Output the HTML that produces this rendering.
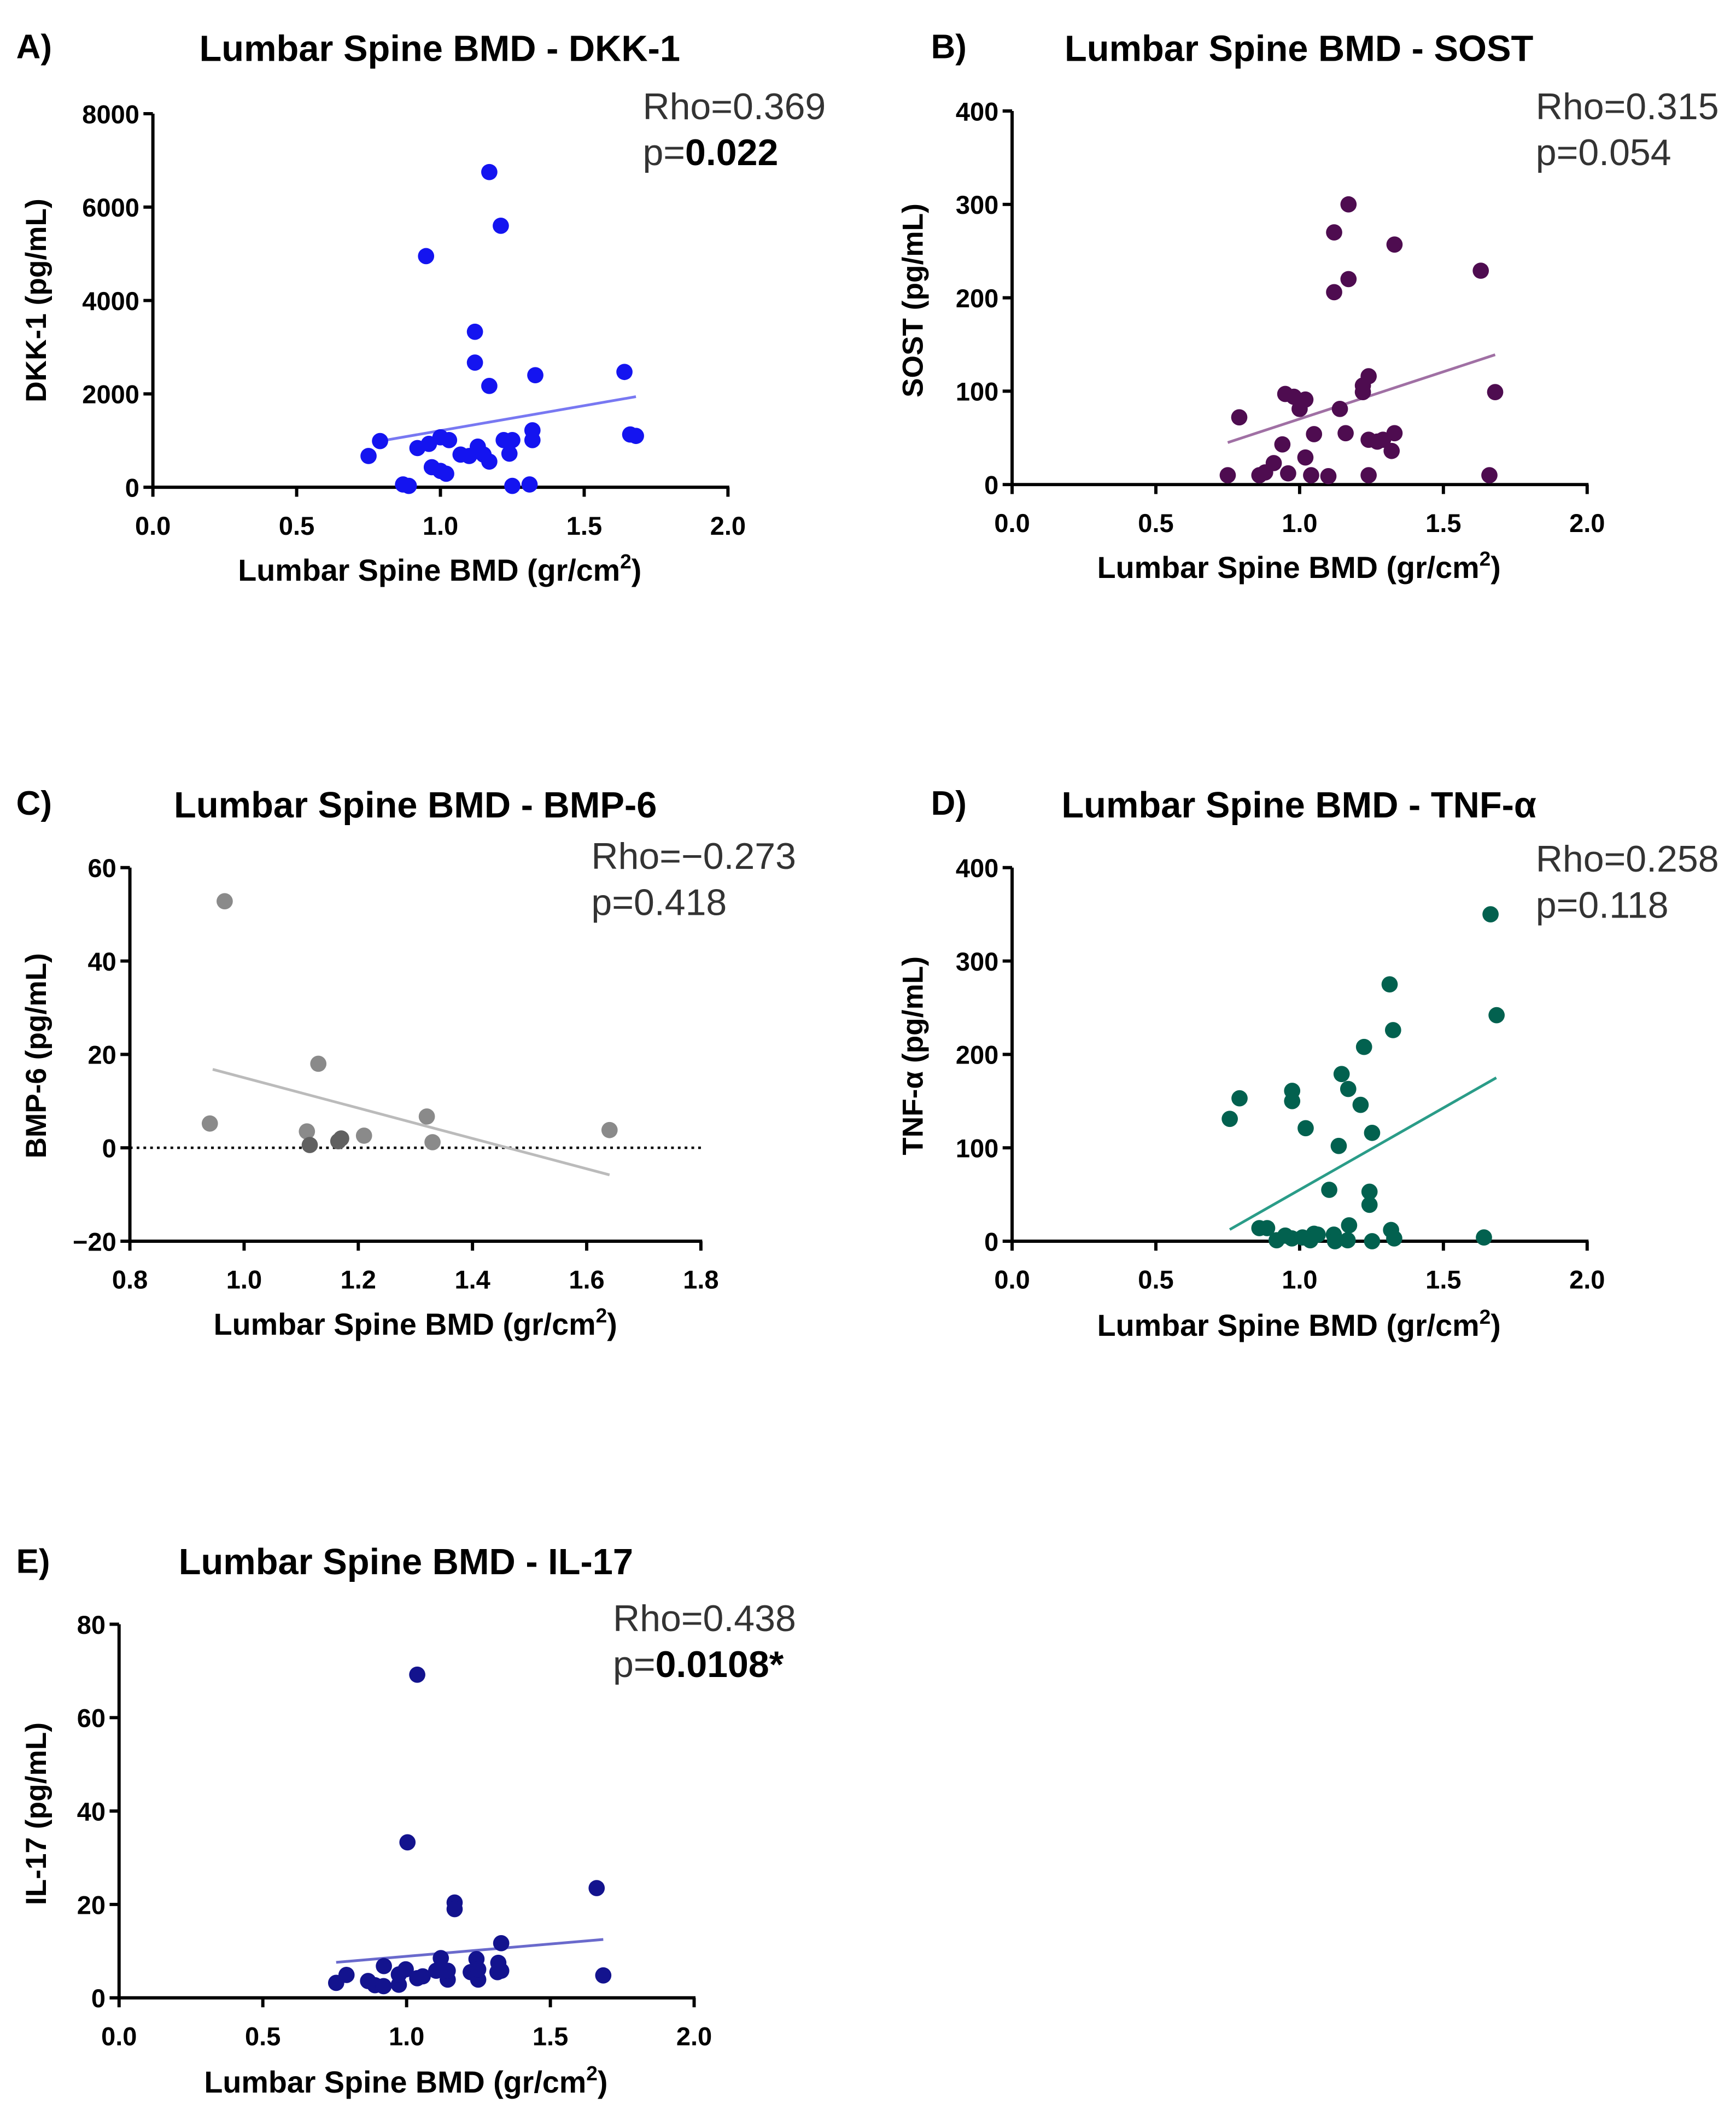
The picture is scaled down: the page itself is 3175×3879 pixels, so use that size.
<!DOCTYPE html>
<html><head><meta charset="utf-8">
<style>
html,body{margin:0;padding:0;background:#fff;}
svg{display:block;font-family:"Liberation Sans",Arial,sans-serif;}
</style></head>
<body>
<svg id="fig" xmlns="http://www.w3.org/2000/svg" width="3175" height="3879" viewBox="0 0 1283 1567" preserveAspectRatio="none">
<rect width="1283" height="1567" fill="#fff"/>
</svg>
<script>
// Panel A: DKK-1
const xA=[1.17,1.21,0.95,1.12,1.12,1.17,1.33,1.64,1.66,1.68,0.75,0.79,0.92,0.96,1.00,1.03,0.97,1.00,1.02,1.07,1.10,1.13,1.15,1.17,1.22,1.25,1.24,1.32,1.32,0.87,0.89,1.25,1.31];
const yA=[6750,5600,4950,3330,2670,2170,2400,2470,1130,1100,670,990,840,930,1070,1010,430,350,290,700,670,870,700,550,1010,1010,720,1220,1010,60,30,30,60];
const fitXA=[0.81,1.68], fitYA=[1010,1940];
const ticksYA=[0,2000,4000,6000,8000], ticksXA=[0.0,0.5,1.0,1.5,2.0];
// Panel B: SOST
const xB=[1.17,1.12,1.17,1.12,1.33,1.63,1.68,1.66,0.79,0.95,0.98,1.02,1.00,1.14,1.22,1.24,1.22,1.05,1.16,1.24,1.27,1.33,1.32,1.29,0.94,0.91,1.02,0.75,0.86,0.88,0.96,1.04,1.10,1.24];
const yB=[300,270,220,206,257,229,99,10,72,97,94,91,81,81,99,116,106,54,55,48,46,55,36,48,43,23,29,10,10,13,12,10,9,10];
const fitXB=[0.75,1.68], fitYB=[45,139];
const ticksYB=[0,100,200,300,400], ticksXB=[0.0,0.5,1.0,1.5,2.0];
// Panel C: BMP-6
const xC=[0.966,0.94,1.13,1.11,1.115,1.165,1.17,1.21,1.32,1.33,1.64];
const yC=[52.8,5.2,18,3.5,0.6,1.4,2,2.6,6.7,1.2,3.8];
const fitXC=[0.945,1.64], fitYC=[16.8,-5.8];
const ticksYC=[-20,0,20,40,60], ticksXC=[0.8,1.0,1.2,1.4,1.6,1.8];
// Panel D: TNF-alpha
const xD=[1.664,1.685,1.313,1.325,1.224,1.146,1.169,1.212,0.791,0.757,0.974,0.974,1.021,1.252,1.136,1.103,1.243,1.243,0.860,0.887,1.172,1.318,1.329,0.920,0.973,0.950,1.010,1.037,1.050,1.063,1.119,1.123,1.167,1.252,1.641];
const yD=[350,242,275,226,208,179,163,146,153,131,161,150,121,116,102,55,53,39,14,14,17,12,3,1,3,6,4,1,8,7,7,0,1,0,4];
const fitXD=[0.757,1.684], fitYD=[12.5,175];
const ticksYD=[0,100,200,300,400], ticksXD=[0.0,0.5,1.0,1.5,2.0];
// Panel E: IL-17
const xE=[1.037,1.003,1.661,1.167,1.167,1.329,1.684,1.119,1.243,1.319,0.921,0.791,0.755,0.866,0.890,0.920,0.973,0.973,0.997,1.037,1.056,1.103,1.143,1.143,1.223,1.249,1.249,1.316,1.329];
const yE=[69.2,33.3,23.5,20.4,19.0,11.7,4.8,8.5,8.3,7.5,6.8,4.9,3.2,3.6,2.7,2.5,2.8,5.0,6.1,4.2,4.6,5.8,3.9,5.8,5.5,3.9,6.1,5.5,5.8];
const fitXE=[0.755,1.684], fitYE=[7.6,12.5];
const ticksYE=[0,20,40,60,80], ticksXE=[0.0,0.5,1.0,1.5,2.0];

const NS="http://www.w3.org/2000/svg";
const svg=document.getElementById('fig');
function mk(tag,attrs,parent){const e=document.createElementNS(NS,tag);for(const k in attrs)e.setAttribute(k,attrs[k]);(parent||svg).appendChild(e);return e;}

function panel(c){
  const g=mk('g',{});
  
  
  const sx=v=>c.px0+(v-c.xmin)/(c.xmax-c.xmin)*(c.px1-c.px0);
  const sy=v=>c.py0-(v-c.ymin)/(c.ymax-c.ymin)*(c.py0-c.py1);
  const ya=mk('line',{x1:c.px0,y1:c.py0+1,x2:c.px0,y2:c.py1,stroke:'#000','stroke-width':2.4},g);
  
  
  const xa=mk('line',{x1:c.px0-1,y1:c.py0,x2:c.px1+1,y2:c.py0,stroke:'#000','stroke-width':2.4},g);
  
  
  c.ty.forEach(v=>{
    mk('line',{x1:c.px0-7,y1:sy(v),x2:c.px0,y2:sy(v),stroke:'#000','stroke-width':2.4},g);
    const t=mk('text',{x:c.px0-10,y:sy(v)+7,'text-anchor':'end','font-size':19,'font-weight':'bold'},g);
    t.textContent=(v<0?'\u2212'+Math.abs(v):String(v));
    
    
  });
  c.tx.forEach(v=>{
    mk('line',{x1:sx(v),y1:c.py0,x2:sx(v),y2:c.py0+7,stroke:'#000','stroke-width':2.4},g);
    const t=mk('text',{x:sx(v),y:c.py0+35,'text-anchor':'middle','font-size':19,'font-weight':'bold'},g);
    t.textContent=v.toFixed(1);
    
    
  });
  if(c.zeroLine){
    const z=mk('line',{x1:c.px0,y1:sy(0),x2:c.px1,y2:sy(0),stroke:'#000','stroke-width':1.8,'stroke-dasharray':'2,3'},g);
    
    
  }
  const fl=mk('line',{x1:sx(c.fx[0]),y1:sy(c.fy[0]),x2:sx(c.fx[1]),y2:sy(c.fy[1]),stroke:c.lc,'stroke-width':2},g);
  
  
  c.xs.forEach((x,i)=>{
    const col=c.pcol?c.pcol(i):c.pc;
    const p=mk('circle',{cx:sx(x),cy:sy(c.ys[i]),r:6,fill:col},g);
    
    
  });
  const pl=mk('text',{x:c.lx,y:c.ly,'font-size':25,'font-weight':'bold'},g);
  pl.textContent=c.letter;
  
  
  const ti=mk('text',{x:c.tix,y:c.tiy,'font-size':27,'font-weight':'bold','text-anchor':'middle'},g);
  ti.textContent=c.title;
  
  
  const r=mk('text',{x:c.rx,y:c.ry,'font-size':27.5,fill:'#333'},g);
  r.textContent=c.rho;
  
  
  const pv=mk('text',{x:c.rx,y:c.ry+34,'font-size':27.5,fill:'#333'},g);
  
  
  const a=mk('tspan',{},pv);a.textContent='p=';
  const b=mk('tspan',{'font-weight':c.pbold?'bold':'normal',fill:c.pbold?'#000':'#333'},pv);b.textContent=c.p;
  const yl=mk('text',{x:0,y:0,'font-size':21.5,'font-weight':'bold','text-anchor':'middle',transform:'translate('+c.ylx+','+c.yly+') rotate(-90)'},g);
  yl.textContent=c.ylabel;
  
  
  const xl=mk('text',{x:c.xlx,y:c.xly,'font-size':22.5,'font-weight':'bold','text-anchor':'middle'},g);
  
  
  const s1=mk('tspan',{},xl);s1.textContent='Lumbar Spine BMD (gr/cm';
  const s2=mk('tspan',{'font-size':15,dy:-9},xl);s2.textContent='2';
  const s3=mk('tspan',{dy:9},xl);s3.textContent=')';
}

panel({id:'a',letter:'A)',lx:12,ly:43,title:'Lumbar Spine BMD - DKK-1',tix:325,tiy:45,rho:'Rho=0.369',p:'0.022',pbold:true,rx:475,ry:88,
  xs:xA,ys:yA,fx:fitXA,fy:fitYA,ty:ticksYA,tx:ticksXA,xmin:0,xmax:2,ymin:0,ymax:8000,px0:113,px1:538,py0:360,py1:84,
  pc:'#1414f0',lc:'#7878f2',ylabel:'DKK-1 (pg/mL)',ylx:34,yly:222,xlx:325,xly:429});
panel({id:'b',letter:'B)',lx:688,ly:43,title:'Lumbar Spine BMD - SOST',tix:960,tiy:45,rho:'Rho=0.315',p:'0.054',pbold:false,rx:1135,ry:88,
  xs:xB,ys:yB,fx:fitXB,fy:fitYB,ty:ticksYB,tx:ticksXB,xmin:0,xmax:2,ymin:0,ymax:400,px0:748,px1:1173,py0:358,py1:82,
  pc:'#4e0c50',lc:'#a070a4',ylabel:'SOST (pg/mL)',ylx:682,yly:222,xlx:960,xly:427});
panel({id:'c',letter:'C)',lx:12,ly:602,title:'Lumbar Spine BMD - BMP-6',tix:307,tiy:604,rho:'Rho=\u22120.273',p:'0.418',pbold:false,rx:437,ry:642,
  xs:xC,ys:yC,fx:fitXC,fy:fitYC,ty:ticksYC,tx:ticksXC,xmin:0.8,xmax:1.8,ymin:-20,ymax:60,px0:96,px1:518,py0:917,py1:641,
  pc:'#8a8a8a',pcol:i=>([4,5,6].includes(i)?'#606060':'#8a8a8a'),lc:'#bbbbbb',zeroLine:true,ylabel:'BMP-6 (pg/mL)',ylx:34,yly:780,xlx:307,xly:986});
panel({id:'d',letter:'D)',lx:688,ly:602,title:'Lumbar Spine BMD - TNF-\u03b1',tix:960,tiy:604,rho:'Rho=0.258',p:'0.118',pbold:false,rx:1135,ry:644,
  xs:xD,ys:yD,fx:fitXD,fy:fitYD,ty:ticksYD,tx:ticksXD,xmin:0,xmax:2,ymin:0,ymax:400,px0:748,px1:1173,py0:917,py1:641,
  pc:'#02614f',lc:'#2a9c88',ylabel:'TNF-\u03b1 (pg/mL)',ylx:682,yly:780,xlx:960,xly:987});
panel({id:'e',letter:'E)',lx:12,ly:1162,title:'Lumbar Spine BMD - IL-17',tix:300,tiy:1163,rho:'Rho=0.438',p:'0.0108*',pbold:true,rx:453,ry:1205,
  xs:xE,ys:yE,fx:fitXE,fy:fitYE,ty:ticksYE,tx:ticksXE,xmin:0,xmax:2,ymin:0,ymax:80,px0:88,px1:513,py0:1476,py1:1200,
  pc:'#13138e',lc:'#6a6acc',ylabel:'IL-17 (pg/mL)',ylx:34,yly:1340,xlx:300,xly:1546});
</script>
</body></html>
